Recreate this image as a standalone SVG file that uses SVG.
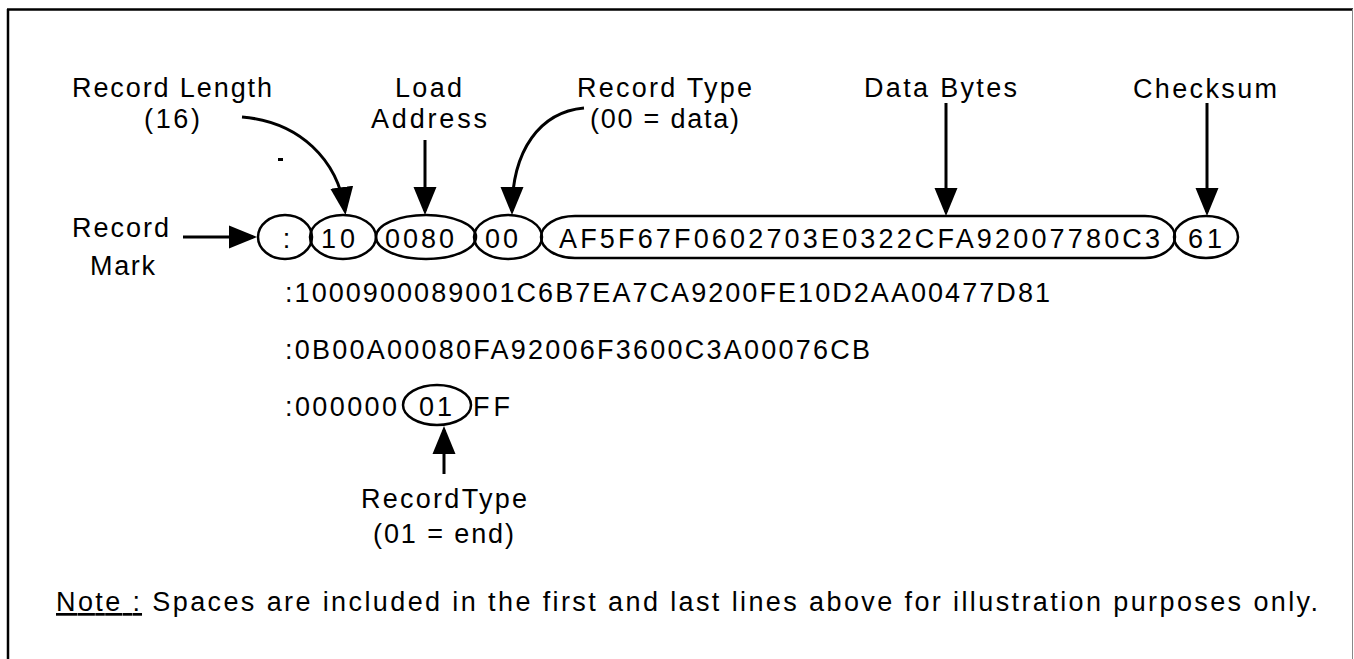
<svg xmlns="http://www.w3.org/2000/svg" width="1354" height="659" viewBox="0 0 1354 659">
<style>
text{font-family:"Liberation Sans",Arial,sans-serif;font-size:27px;fill:#000;letter-spacing:2px}
.ov{fill:none;stroke:#000;stroke-width:2.5}
.ar{fill:none;stroke:#000;stroke-width:3;marker-end:url(#ah)}
</style>
<defs>
<marker id="ah" markerUnits="userSpaceOnUse" markerWidth="30" markerHeight="26" refX="24" refY="13" orient="auto">
<path d="M0,1.5 L28,13 L0,24.5 Z" fill="#000"/>
</marker>
</defs>
<rect width="1354" height="659" fill="#fff"/>
<g id="frame">
<line x1="8" y1="9" x2="8" y2="659" stroke="#000" stroke-width="2.5"/>
<line x1="7" y1="9.5" x2="1353" y2="9.5" stroke="#000" stroke-width="2.5"/>
<line x1="1352.5" y1="9" x2="1352.5" y2="659" stroke="#888" stroke-width="1"/>
</g>
<g id="labels">
<text x="72" y="97" textLength="202" lengthAdjust="spacing">Record Length</text>
<text x="144" y="128" textLength="58" lengthAdjust="spacing">(16)</text>
<text x="395" y="97" textLength="69" lengthAdjust="spacing">Load</text>
<text x="371" y="128" textLength="118" lengthAdjust="spacing">Address</text>
<text x="577" y="97" textLength="177" lengthAdjust="spacing">Record Type</text>
<text x="590" y="128" textLength="151" lengthAdjust="spacing">(00 = data)</text>
<text x="864" y="97" textLength="155" lengthAdjust="spacing">Data Bytes</text>
<text x="1133" y="98" textLength="146" lengthAdjust="spacing">Checksum</text>
<text x="72" y="237" textLength="99" lengthAdjust="spacing">Record</text>
<text x="90" y="275" textLength="67" lengthAdjust="spacing">Mark</text>
<rect x="278" y="158" width="5" height="3" fill="#000"/>
</g>
<g id="record1">
<ellipse class="ov" cx="285" cy="237" rx="27" ry="22"/>
<text x="286.5" y="248" text-anchor="middle" style="letter-spacing:0">:</text>
<ellipse class="ov" cx="343" cy="237" rx="33" ry="22"/>
<text x="321" y="248" textLength="36" lengthAdjust="spacing">10</text>
<ellipse class="ov" cx="426" cy="237" rx="50" ry="22"/>
<text x="385" y="248" textLength="71" lengthAdjust="spacing">0080</text>
<ellipse class="ov" cx="508" cy="237" rx="34" ry="22"/>
<text x="485" y="248" textLength="35" lengthAdjust="spacing">00</text>
<path class="ov" d="M575,216 H1145 A30,21 0 0 1 1145,258 H575 A34,21 0 0 1 575,216 Z"/>
<text x="559" y="248" textLength="603" lengthAdjust="spacing">AF5F67F0602703E0322CFA92007780C3</text>
<ellipse class="ov" cx="1206" cy="237" rx="32" ry="21"/>
<text x="1188" y="248" textLength="36" lengthAdjust="spacing">61</text>
</g>
<g id="record2">
<text x="285" y="302" textLength="767" lengthAdjust="spacing">:1000900089001C6B7EA7CA9200FE10D2AA00477D81</text>
</g>
<g id="record3">
<text x="285" y="359" textLength="587" lengthAdjust="spacing">:0B00A00080FA92006F3600C3A00076CB</text>
</g>
<g id="record4">
<text x="285" y="416" textLength="114" lengthAdjust="spacing">:000000</text>
<ellipse class="ov" cx="437" cy="405" rx="34" ry="20"/>
<text x="419" y="416" textLength="35" lengthAdjust="spacing">01</text>
<text x="473" y="416" textLength="39" lengthAdjust="spacing">FF</text>
</g>
<g id="end-label">
<text x="361" y="508" textLength="168" lengthAdjust="spacing">RecordType</text>
<text x="373" y="543" textLength="143" lengthAdjust="spacing">(01 = end)</text>
</g>
<g id="connectors">
<path class="ar" d="M183,237 H253"/>
<path class="ar" d="M242,117 C300,122 338,160 345,211"/>
<path class="ar" d="M425,140 V211"/>
<path class="ar" d="M584,108 C540,112 512,150 512,211"/>
<path class="ar" d="M946,103 V212"/>
<path class="ar" d="M1207,103 V212"/>
<path class="ar" d="M444,474 V430"/>
</g>
<g id="note">
<text x="56" y="611" textLength="1264" lengthAdjust="spacing"><tspan text-decoration="underline">Note :</tspan> Spaces are included in the first and last lines above for illustration purposes only.</text>
</g>
</svg>
